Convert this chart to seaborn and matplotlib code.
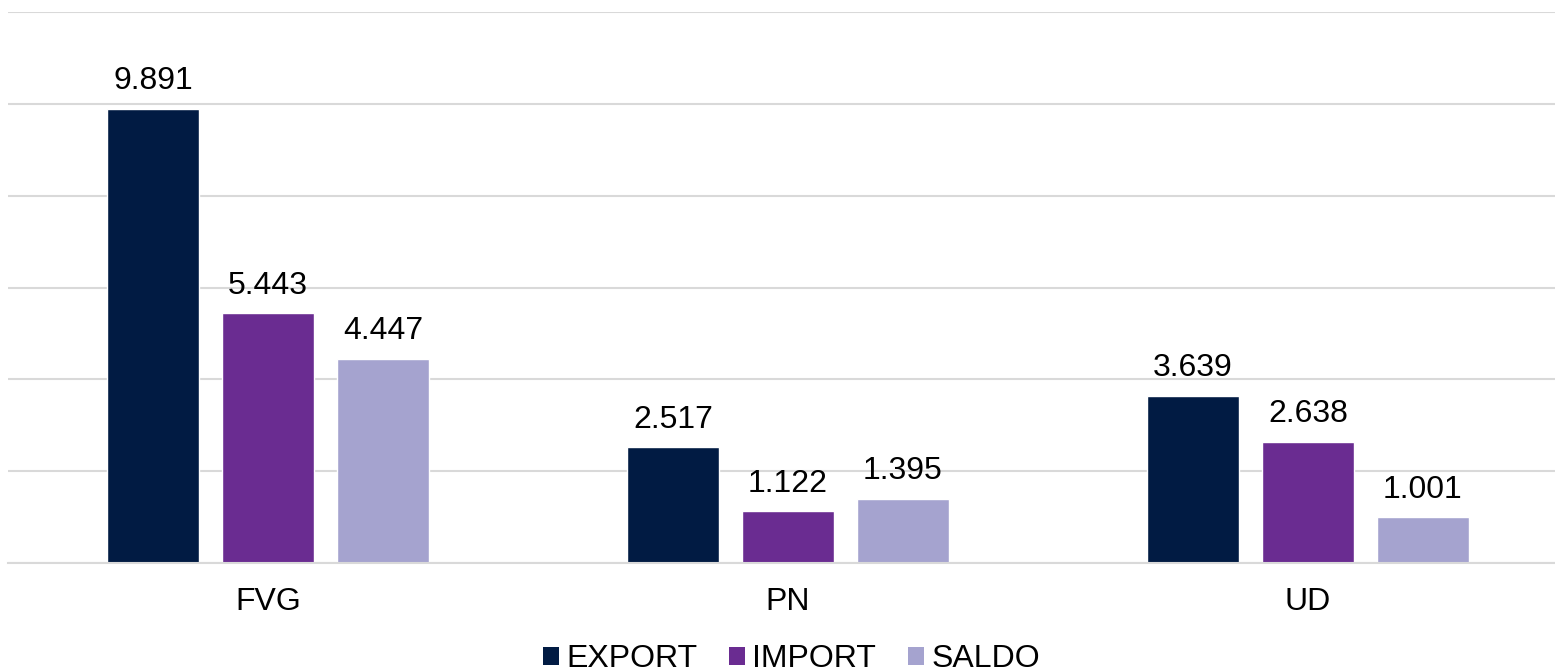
import numpy as np
import pandas as pd
import matplotlib
matplotlib.use("Agg")
import matplotlib.pyplot as plt
import seaborn as sns
from matplotlib.patches import Patch

# ------------------ Data ------------------
provinces = ["FVG", "PN", "UD"]
series = ["EXPORT", "IMPORT", "SALDO"]
export_vals = [9891, 2517, 3639]
import_vals = [5443, 1122, 2638]
saldo_vals = [4447, 1395, 1001]
colors = ["#011B43", "#6A2C91", "#A5A3CF"]

df = pd.DataFrame({
    "area": provinces * 3,
    "serie": np.repeat(series, 3),
    "valore": export_vals + import_vals + saldo_vals,
})

# ------------------ Plot ------------------
sns.set_theme(style="white")
plt.rcParams["font.family"] = ["Liberation Sans", "DejaVu Sans"]
plt.rcParams["text.color"] = "black"
plt.rcParams["xtick.color"] = "black"

fig = plt.figure(figsize=(15.55, 6.72), dpi=100)
ax = fig.add_axes([8 / 1555, 1 - 563 / 672, 1560 / 1555, (563 - 12) / 672])

sns.barplot(data=df, x="area", y="valore", hue="serie", hue_order=series,
            palette=colors, width=0.663, gap=0.195, saturation=1,
            legend=False, ax=ax)

ax.set_xlim(-0.5, 2.5)
ax.set_ylim(0, 12000)
ax.set_yticks(np.arange(0, 12001, 2000))
ax.yaxis.grid(True, color="#D9D9D9", linewidth=1.5)
ax.set_axisbelow(True)
ax.tick_params(axis="y", left=False, labelleft=False)
ax.tick_params(axis="x", bottom=False, labelsize=23, pad=11, labelcolor="black")
ax.set_xlabel("")
ax.set_ylabel("")
for s in ["top", "right", "left"]:
    ax.spines[s].set_visible(False)
ax.spines["bottom"].set_color("#D9D9D9")
ax.spines["bottom"].set_linewidth(1.5)

for cont in ax.containers:
    ax.bar_label(cont, labels=[f"{int(v):,}".replace(",", ".") for v in cont.datavalues],
                 padding=9, fontsize=23, color="black")

handles = [Patch(facecolor=c, edgecolor="none") for c in colors]
fig.legend(handles, series, loc="center", bbox_to_anchor=(0.509, 1 - 659 / 672),
           ncol=3, frameon=False, fontsize=23, handlelength=0.5, handleheight=0.5,
           handletextpad=0.22, columnspacing=1.0, borderpad=0, labelcolor="black")

fig.savefig("out.png", dpi=100)
